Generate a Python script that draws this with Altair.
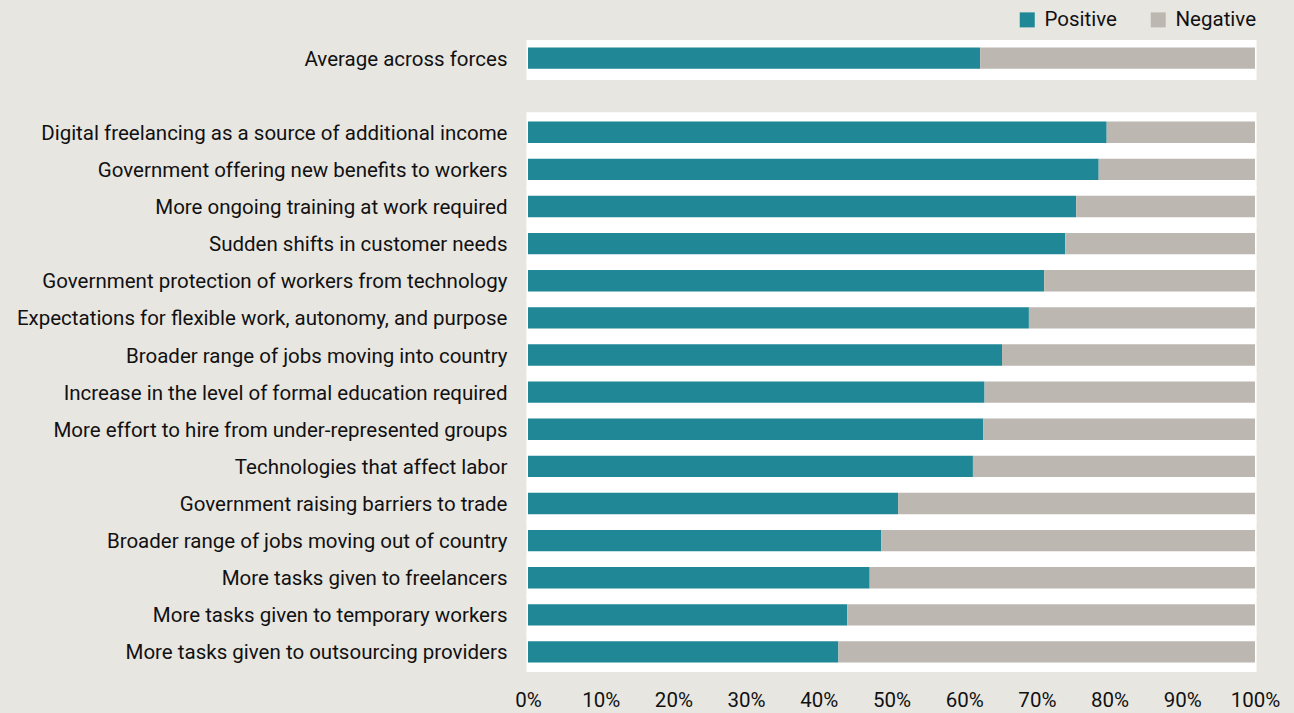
import altair as alt
import pandas as pd

average_label = "Average across forces"
categories = [
    "Digital freelancing as a source of additional income",
    "Government offering new benefits to workers",
    "More ongoing training at work required",
    "Sudden shifts in customer needs",
    "Government protection of workers from technology",
    "Expectations for flexible work, autonomy, and purpose",
    "Broader range of jobs moving into country",
    "Increase in the level of formal education required",
    "More effort to hire from under-represented groups",
    "Technologies that affect labor",
    "Government raising barriers to trade",
    "Broader range of jobs moving out of country",
    "More tasks given to freelancers",
    "More tasks given to temporary workers",
    "More tasks given to outsourcing providers",
]
average_positive = 62.2
positive = [79.6, 78.5, 75.4, 73.9, 71.0, 68.9, 65.2, 62.8, 62.6, 61.2,
            50.9, 48.6, 47.0, 43.9, 42.7]
series = ["Positive", "Negative"]
colors = ["#1f8796", "#bcb7b1"]
x_ticks = [0, 10, 20, 30, 40, 50, 60, 70, 80, 90, 100]

BG = "#e8e6e1"
FONT = "Roboto"

spacer = " "
all_cats = [average_label] + categories
all_pos = [average_positive] + positive
y_domain = [average_label, spacer] + categories

rows = []
for c, p in zip(all_cats, all_pos):
    rows.append({"cat": c, "series": "Positive", "value": p, "ord": 0})
    rows.append({"cat": c, "series": "Negative", "value": round(100 - p, 1), "ord": 1})
df = pd.DataFrame(rows)
panel_avg = pd.DataFrame({"cat": [average_label], "start": [0], "end": [100]})
panel_main = pd.DataFrame({"cat": categories, "start": 0, "end": 100})

y_enc = alt.Y(
    "cat:N",
    sort=y_domain,
    scale=alt.Scale(domain=y_domain, paddingInner=0, paddingOuter=0),
    axis=alt.Axis(title=None, ticks=False, domain=False, labelFontSize=20.5,
                  labelColor="#111111", labelPadding=21, labelFont=FONT,
                  labelLimit=600, labelOffset=1.5),
)
x_scale = alt.Scale(domain=[0, 100], nice=False)
x_enc = alt.X("start:Q", scale=x_scale,
              axis=alt.Axis(title=None, values=x_ticks, labelExpr="datum.value + '%'",
                            grid=False, ticks=False, domain=False, labelFontSize=20.5,
                            labelColor="#111111", labelPadding=20, labelFont=FONT,
                            labelFlush=False))

bg_avg = alt.Chart(panel_avg).mark_bar(
    color="white", stroke="white", strokeWidth=3, yOffset=2
).encode(y=y_enc, x=x_enc, x2="end:Q")

bg_main = alt.Chart(panel_main).mark_bar(
    color="white", stroke="white", strokeWidth=3
).encode(y=alt.Y("cat:N", sort=y_domain), x=alt.X("start:Q", scale=x_scale), x2="end:Q")

bars = alt.Chart(df).mark_bar(height=alt.RelativeBandSize(0.575)).encode(
    y=alt.Y("cat:N", sort=y_domain),
    x=alt.X("value:Q", stack="zero", scale=x_scale),
    color=alt.Color(
        "series:N",
        scale=alt.Scale(domain=series, range=colors),
        legend=alt.Legend(title=None, orient="none", direction="horizontal",
                          legendX=489, legendY=-30, symbolType="square",
                          symbolSize=225, symbolStrokeWidth=0, labelFontSize=20.5,
                          labelFont=FONT, labelColor="#111111", columnPadding=31,
                          labelOffset=7, symbolOpacity=1),
    ),
    order=alt.Order("ord:Q"),
)

chart = alt.layer(bg_avg, bg_main, bars).properties(
    width=727,
    height=631,
    background=BG,
    padding={"left": 520, "top": 31.5, "right": 30, "bottom": 42},
    autosize=alt.AutoSizeParams(type="none"),
).configure_view(stroke=None)

PAGE_TEMPLATE = """<!DOCTYPE html>
<html>
<head>
  <style>
    body { background: %s; }
    #{{ output_div }}.vega-embed { width: 100%%; display: flex; }
  </style>
  <script type="text/javascript" src="{{ base_url }}/vega@{{ vega_version }}"></script>
  <script type="text/javascript" src="{{ base_url }}/vega-lite@{{ vegalite_version }}"></script>
  <script type="text/javascript" src="{{ base_url }}/vega-embed@{{ vegaembed_version }}"></script>
</head>
<body>
  <div id="{{ output_div }}"></div>
  <script>
    (function(vegaEmbed) {
      var spec = {{ spec }};
      var embedOpt = {{ embed_options }};
      vegaEmbed("#{{ output_div }}", spec, embedOpt);
    })(vegaEmbed);
  </script>
</body>
</html>
""" % BG

try:
    import jinja2
    page_template = jinja2.Template(PAGE_TEMPLATE)
except Exception:
    page_template = "standard"

chart.save("out.html", embed_options={"renderer": "svg", "actions": False},
           template=page_template)
